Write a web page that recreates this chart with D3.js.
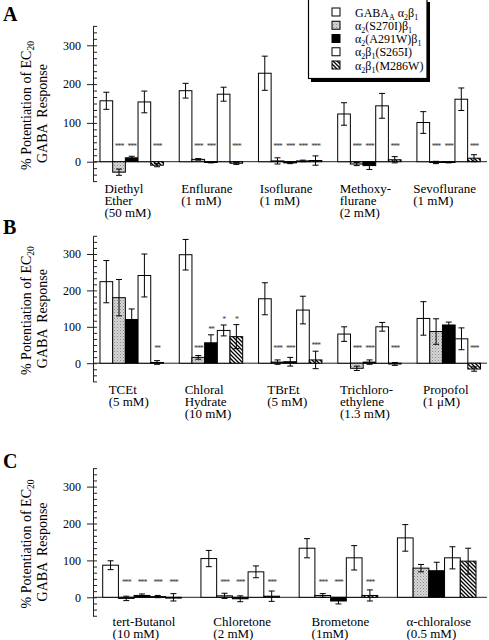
<!DOCTYPE html>
<html><head><meta charset="utf-8">
<script src="https://cdn.jsdelivr.net/npm/d3@7"></script>
<style>html,body{margin:0;padding:0;background:#fff;}svg{display:block;}</style>
</head><body>
<svg id="chart" width="489" height="640"></svg>
<script>
// ---------- DATA ----------
const seriesKeys = ["wt", "S270I", "A291W", "S265I", "M286W"];

// Panel A
const catsA = ["Diethyl|Ether|(50 mM)", "Enflurane|(1 mM)", "Isoflurane|(1 mM)", "Methoxy-|flurane|(2 mM)", "Sevoflurane|(1 mM)"];
const A_wt = [157, 183, 228, 123, 101];      const A_wt_err = [22, 19, 44, 29, 28];
const A_S270I = [-27, 6, 2, -6, -2];         const A_S270I_err = [8, 2, 8, 4, 3];
const A_A291W = [10, -2, -3, -10, -2];       const A_A291W_err = [4, 1, 2, 10, 1];
const A_S265I = [154, 174, 2, 144, 161];     const A_S265I_err = [28, 18, 2, 32, 29];
const A_M286W = [-9, -4, 3, 5, 9];           const A_M286W_err = [4, 3, 12, 8, 9];
const A_sig_S270I = ["***", "***", "***", "***", "***"];
const A_sig_A291W = ["***", "***", "***", "***", "***"];
const A_sig_S265I = ["", "", "***", "", ""];
const A_sig_M286W = ["***", "***", "***", "***", "***"];

// Panel B
const catsB = ["TCEt|(5 mM)", "Chloral|Hydrate|(10 mM)", "TBrEt|(5 mM)", "Trichloro-|ethylene|(1.3 mM)", "Propofol|(1 μM)"];
const B_wt = [224, 298, 177, 80, 123];       const B_wt_err = [58, 42, 44, 20, 46];
const B_S270I = [180, 16, 3, -14, 87];       const B_S270I_err = [50, 5, 6, 6, 35];
const B_A291W = [120, 56, 4, 3, 105];        const B_A291W_err = [29, 22, 12, 6, 8];
const B_S265I = [241, 90, 146, 100, 67];     const B_S265I_err = [59, 15, 38, 12, 30];
const B_M286W = [2, 73, 9, -2, -16];         const B_M286W_err = [5, 33, 24, 4, 6];
const B_sig_S270I = ["", "***", "***", "***", ""];
const B_sig_A291W = ["", "**", "***", "***", ""];
const B_sig_S265I = ["", "*", "", "", ""];
const B_sig_M286W = ["**", "*", "***", "***", "***"];

// Panel C
const catsC = ["tert-Butanol|(10 mM)", "Chloretone|(2 mM)", "Brometone|(1mM)", "α-chloralose|(0.5 mM)"];
const C_wt = [87, 105, 133, 161];            const C_wt_err = [12, 22, 26, 36];
const C_S270I = [-3, 4, 5, 79];              const C_S270I_err = [6, 7, 5, 10];
const C_A291W = [5, -4, -10, 72];            const C_A291W_err = [4, 8, 8, 23];
const C_S265I = [2, 69, 107, 107];           const C_S265I_err = [3, 16, 33, 30];
const C_M286W = [0, 3, 5, 98];               const C_M286W_err = [10, 14, 15, 35];
const C_sig_S270I = ["***", "***", "***", ""];
const C_sig_A291W = ["***", "***", "***", ""];
const C_sig_S265I = ["***", "", "", ""];
const C_sig_M286W = ["***", "***", "***", ""];

const majorTicks = [0, 100, 200, 300];
const yDomain = [-50, 350];

// ---------- DRAWING ----------
const FONT = "'Liberation Serif','Times New Roman',serif";
const svg = d3.select("#chart");
const defs = svg.append("defs");

const stip = defs.append("pattern").attr("id", "stipple").attr("patternUnits", "userSpaceOnUse")
  .attr("width", 3).attr("height", 3);
stip.append("rect").attr("width", 3).attr("height", 3).attr("fill", "#d6d6d6");
stip.append("rect").attr("x", 0).attr("y", 0).attr("width", 1).attr("height", 1).attr("fill", "#8a8a8a");
stip.append("rect").attr("x", 1.5).attr("y", 1.5).attr("width", 1).attr("height", 1).attr("fill", "#a5a5a5");

const hatch = defs.append("pattern").attr("id", "hatch").attr("patternUnits", "userSpaceOnUse")
  .attr("width", 4).attr("height", 4);
hatch.append("rect").attr("width", 4).attr("height", 4).attr("fill", "#fff");
hatch.append("path").attr("d", "M-1,-1 L5,5 M-1,3 L1,5 M3,-1 L5,1")
  .attr("stroke", "#000").attr("stroke-width", 1.3);

const fills = {wt: "#fff", S270I: "url(#stipple)", A291W: "#000", S265I: "#fff", M286W: "url(#hatch)"};

function drawPanel(cfg) {
  const g = svg.append("g");
  const y = d3.scaleLinear().domain(yDomain)
    .range([cfg.yZero + 50 * cfg.k, cfg.yZero - 350 * cfg.k]);
  const x0 = d3.scaleBand().domain(cfg.cats).range(cfg.xRange).paddingInner(0.2).paddingOuter(0);
  const x1 = d3.scaleBand().domain(seriesKeys).range([0, x0.bandwidth()]).padding(0);
  const axisX = 93;

  // zero line
  g.append("line").attr("x1", axisX).attr("x2", 487).attr("y1", y(0)).attr("y2", y(0))
    .attr("stroke", "#222").attr("stroke-width", 1);

  const rows = [];
  cfg.cats.forEach((c, i) => {
    seriesKeys.forEach((s, j) => {
      rows.push({cat: c, s: s, v: cfg.vals[j][i], e: cfg.errs[j][i], sig: cfg.sigs[j] ? cfg.sigs[j][i] : ""});
    });
  });

  g.selectAll("rect.bar").data(rows).join("rect").attr("class", "bar")
    .attr("x", d => x0(d.cat) + x1(d.s))
    .attr("width", x1.bandwidth())
    .attr("y", d => y(Math.max(0, d.v)))
    .attr("height", d => Math.max(0.8, Math.abs(y(d.v) - y(0))))
    .attr("fill", d => fills[d.s]).attr("stroke", "#000").attr("stroke-width", 1);

  const eb = g.selectAll("g.err").data(rows).join("g").attr("class", "err")
    .attr("transform", d => `translate(${x0(d.cat) + x1(d.s) + x1.bandwidth() / 2},0)`);
  eb.append("line").attr("y1", d => y(d.v - d.e)).attr("y2", d => y(d.v + d.e))
    .attr("stroke", "#000").attr("stroke-width", 1);
  eb.append("line").attr("x1", -3).attr("x2", 3).attr("y1", d => y(d.v + d.e)).attr("y2", d => y(d.v + d.e))
    .attr("stroke", "#000").attr("stroke-width", 1);
  eb.append("line").attr("x1", -3).attr("x2", 3).attr("y1", d => y(d.v - d.e)).attr("y2", d => y(d.v - d.e))
    .attr("stroke", "#000").attr("stroke-width", 1);

  // significance marks
  g.selectAll("text.sig").data(rows.filter(d => d.sig)).join("text").attr("class", "sig")
    .attr("x", d => x0(d.cat) + x1(d.s) + x1.bandwidth() / 2)
    .attr("y", d => y(Math.max(45, d.v + d.e + 20)) + 4.5)
    .attr("text-anchor", "middle").attr("font-family", FONT).attr("font-size", 8)
    .attr("letter-spacing", -1.2).attr("fill", "#333").text(d => d.sig);

  // axis: minor ticks (inside) and major ticks with labels, in separate groups
  const minor = d3.range(0, 25).map(i => -50 + i * 100 / 6);
  const gMinor = g.append("g").attr("transform", `translate(${axisX},0)`)
    .call(d3.axisRight(y).tickValues(minor).tickSize(4).tickSizeOuter(0).tickFormat(""));
  const gMajor = g.append("g").attr("transform", `translate(${axisX},0)`)
    .call(d3.axisLeft(y).tickValues(majorTicks).tickSize(6).tickSizeOuter(0).tickPadding(6).tickFormat(d3.format("d")));
  gMajor.select("path.domain").remove();
  gMinor.selectAll("path.domain").attr("stroke", "#222");
  [gMinor, gMajor].forEach(a => a.selectAll(".tick line").attr("stroke", "#222"));
  gMajor.selectAll(".tick text").attr("font-family", FONT).attr("font-size", 12).attr("fill", "#000");

  // category labels
  cfg.cats.forEach(c => {
    const lines = c.split("|");
    const t = g.append("text").attr("font-family", FONT).attr("font-size", 13).attr("fill", "#000");
    lines.forEach((ln, k) => {
      t.append("tspan").attr("x", 0).attr("y", cfg.labelY + k * 11.8).text(ln);
    });
    const w = d3.max(t.selectAll("tspan").nodes(), n => n.getComputedTextLength());
    const cx = x0(c) + x0.bandwidth() / 2 + cfg.labelDx;
    t.attr("transform", `translate(${cx - w / 2},0)`);
  });

  // y title
  const mid = y(150);
  const t1 = g.append("text").attr("font-family", FONT).attr("font-size", 14).attr("fill", "#000")
    .attr("text-anchor", "middle").attr("transform", `translate(31,${mid + 2}) rotate(-90)`);
  t1.append("tspan").text("% Potentiation of EC");
  t1.append("tspan").attr("font-size", 9.5).attr("dy", 3).text("20");
  g.append("text").attr("font-family", FONT).attr("font-size", 14).attr("fill", "#000")
    .attr("text-anchor", "middle").attr("transform", `translate(47,${mid + 10}) rotate(-90)`)
    .attr("word-spacing", 3).text("GABA Response");

  // panel letter
  g.append("text").attr("x", 3).attr("y", cfg.letterY).attr("font-family", FONT)
    .attr("font-weight", "bold").attr("font-size", 20).attr("fill", "#000").text(cfg.letter);
}

drawPanel({cats: catsA, vals: [A_wt, A_S270I, A_A291W, A_S265I, A_M286W],
  errs: [A_wt_err, A_S270I_err, A_A291W_err, A_S265I_err, A_M286W_err],
  sigs: [null, A_sig_S270I, A_sig_A291W, A_sig_S265I, A_sig_M286W],
  yZero: 161.7, k: 0.388, xRange: [100, 480.3], labelY: 193, labelDx: -4, letter: "A", letterY: 21});
drawPanel({cats: catsB, vals: [B_wt, B_S270I, B_A291W, B_S265I, B_M286W],
  errs: [B_wt_err, B_S270I_err, B_A291W_err, B_S265I_err, B_M286W_err],
  sigs: [null, B_sig_S270I, B_sig_A291W, B_sig_S265I, B_sig_M286W],
  yZero: 363.2, k: 0.364, xRange: [100, 480.5], labelY: 394, labelDx: -3, letter: "B", letterY: 234});
drawPanel({cats: catsC, vals: [C_wt, C_S270I, C_A291W, C_S265I, C_M286W],
  errs: [C_wt_err, C_S270I_err, C_A291W_err, C_S265I_err, C_M286W_err],
  sigs: [null, C_sig_S270I, C_sig_A291W, C_sig_S265I, C_sig_M286W],
  yZero: 597.3, k: 0.369, xRange: [102.7, 476], labelY: 626, labelDx: 2, letter: "C", letterY: 468});

// ---------- LEGEND ----------
const lg = svg.append("g");
lg.append("rect").attr("x", 311).attr("y", 2).attr("width", 119).attr("height", 80).attr("fill", "#000");
lg.append("rect").attr("x", 308.5).attr("y", -1).attr("width", 118.5).attr("height", 79.5)
  .attr("fill", "#fff").attr("stroke", "#000").attr("stroke-width", 1.2);
const legendItems = [
  {s: "wt", parts: [["GABA", 0], ["A", 1], [" α", 0], ["2", 1], ["β", 0], ["1", 1]]},
  {s: "S270I", parts: [["α", 0], ["2", 1], ["(S270I)β", 0], ["1", 1]]},
  {s: "A291W", parts: [["α", 0], ["2", 1], ["(A291W)β", 0], ["1", 1]]},
  {s: "S265I", parts: [["α", 0], ["2", 1], ["β", 0], ["1", 1], ["(S265I)", 0]]},
  {s: "M286W", parts: [["α", 0], ["2", 1], ["β", 0], ["1", 1], ["(M286W)", 0]]}
];
const ly = d3.scaleLinear().domain([0, 4]).range([16.5, 69.5]);
legendItems.forEach((it, i) => {
  lg.append("rect").attr("x", 332).attr("y", ly(i) - 8.5).attr("width", 8).attr("height", 8)
    .attr("fill", fills[it.s]).attr("stroke", "#000").attr("stroke-width", 1);
  const t = lg.append("text").attr("x", 355).attr("y", ly(i)).attr("font-family", FONT)
    .attr("font-size", 12).attr("fill", "#000");
  let prevSub = 0;
  it.parts.forEach(([txt, sub]) => {
    const ts = t.append("tspan").attr("fill", "#000").text(txt);
    if (sub) ts.attr("font-size", 8);
    const dy = (sub ? 3 : 0) - (prevSub ? 3 : 0);
    if (dy) ts.attr("dy", dy);
    prevSub = sub;
  });
});
</script>
</body></html>
